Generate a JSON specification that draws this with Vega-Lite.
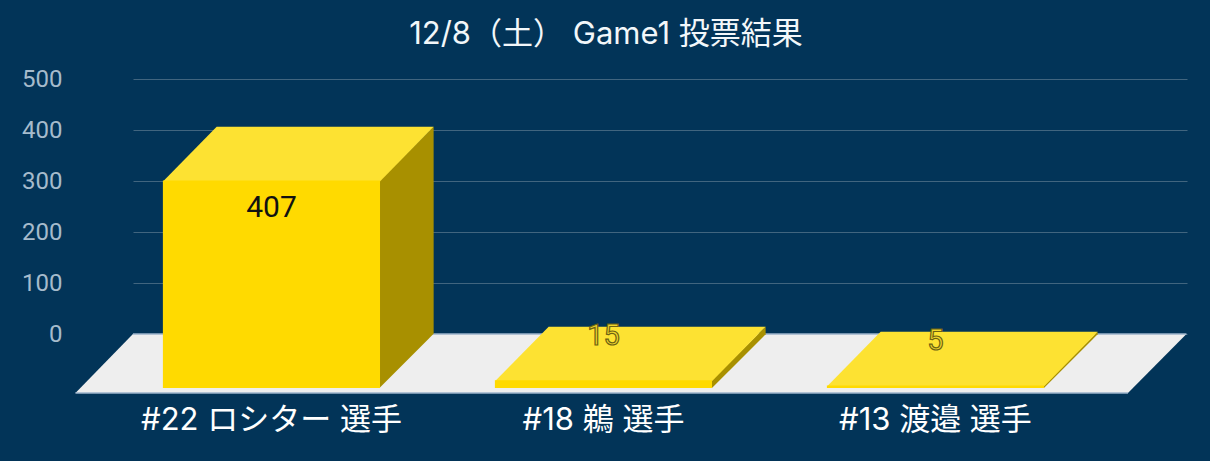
{
  "$schema": "https://vega.github.io/schema/vega-lite/v6.json",
  "description": "12/8 Game1 vote result, drawn as 3D boxes",
  "title": {
    "text": "12/8（土） Game1 投票結果",
    "color": "#F2F7FA",
    "font": "Inter, Noto Sans CJK JP",
    "fontSize": 31,
    "fontWeight": "normal",
    "dx": -54,
    "offset": 16
  },
  "background": "#023458",
  "autosize": {"type": "none"},
  "padding": {"left": 133, "top": 79, "right": 23, "bottom": 68},
  "width": 1054,
  "height": 314,
  "config": {"view": {"stroke": null}},
  "data": {
    "values": [
      {"player": "#22 ロシター 選手", "votes": 407},
      {"player": "#18 鵜 選手", "votes": 15},
      {"player": "#13 渡邉 選手", "votes": 5}
    ]
  },
  "encoding": {
    "x": {
      "field": "player",
      "type": "nominal",
      "title": null,
      "scale": {
        "type": "band",
        "domain": ["#22 ロシター 選手", "#18 鵜 選手", "#13 渡邉 選手"],
        "paddingInner": 0.346,
        "paddingOuter": 0.26035,
        "align": 0.1729
      },
      "axis": {
        "domain": false,
        "ticks": false,
        "grid": false,
        "labelAngle": 0,
        "labelColor": "#FFFFFF",
        "labelFont": "Inter, Noto Sans CJK JP",
        "labelFontSize": 31,
        "labelLimit": 0,
        "labelPadding": 12
      }
    }
  },
  "layer": [
    {
      "data": {"values": [{"floor": "floor"}]},
      "mark": {
        "type": "point",
        "filled": true,
        "opacity": 1,
        "size": 4,
        "color": "#EEEEEE",
        "shape": "M-528,59L524.5,59L583,0L-470.5,0Z"
      },
      "encoding": {
        "x": {"datum": "#18 鵜 選手"},
        "y": {
          "datum": 0,
          "type": "quantitative",
          "title": null,
          "scale": {"domain": [0, 500], "range": [255, 0]},
          "axis": {
            "values": [0, 100, 200, 300, 400, 500],
            "domain": false,
            "ticks": false,
            "grid": true,
            "gridColor": "#41657F",
            "gridWidth": 1,
            "labelColor": "#A6BBCC",
            "labelFont": "Roboto",
            "labelFontSize": 24,
            "labelPadding": 71
          }
        }
      }
    },
    {
      "data": {"values": [{"floor": "floor"}]},
      "mark": {
        "type": "point",
        "filled": false,
        "opacity": 1,
        "size": 4,
        "color": "#9DB4CC",
        "strokeWidth": 1.5,
        "shape": "M-528,59L524.5,59M583,0L-470.5,0"
      },
      "encoding": {
        "x": {"datum": "#18 鵜 選手"},
        "y": {
          "datum": 0,
          "type": "quantitative",
          "scale": {"domain": [0, 500], "range": [255, 0]},
          "axis": null
        }
      }
    },
    {
      "mark": {"type": "point", "filled": true, "opacity": 1, "size": 4, "color": "#A89000"},
      "encoding": {
        "y": {
          "field": "votes",
          "type": "quantitative",
          "scale": {"domain": [0, 500], "range": [309, 54]},
          "axis": null
        },
        "shape": {
          "field": "player",
          "type": "nominal",
          "legend": null,
          "scale": {
            "domain": ["#22 ロシター 選手", "#18 鵜 選手", "#13 渡邉 選手"],
            "range": [
              "M108.5,0L162.2,-53.7L162.2,153.3L108.5,207Z",
              "M108.5,0L162.2,-53.7L162.2,-46.1L108.5,7.6Z",
              "M108.5,0L162.2,-53.7L162.2,-51.2L108.5,2.5Z"
            ]
          }
        }
      }
    },
    {
      "mark": {
        "type": "point",
        "filled": true,
        "opacity": 1,
        "size": 4,
        "color": "#FDE232",
        "shape": "M-108.5,1L108.5,1L162.2,-53.7L-54.8,-53.7Z"
      },
      "encoding": {
        "y": {
          "field": "votes",
          "type": "quantitative",
          "scale": {"domain": [0, 500], "range": [309, 54]},
          "axis": null
        }
      }
    },
    {
      "mark": {"type": "bar", "color": "#FFDA00", "width": {"band": 1}},
      "encoding": {
        "y": {
          "field": "votes",
          "type": "quantitative",
          "scale": {"domain": [0, 500], "range": [309, 54]},
          "axis": null
        }
      }
    },
    {
      "transform": [{"filter": {"field": "votes", "gt": 100}}],
      "mark": {
        "type": "text",
        "color": "#111111",
        "font": "Roboto",
        "fontSize": 30,
        "dy": 82,
        "baseline": "middle"
      },
      "encoding": {
        "y": {
          "field": "votes",
          "type": "quantitative",
          "scale": {"domain": [0, 500], "range": [255, 0]},
          "axis": null
        },
        "text": {"field": "votes", "type": "quantitative"}
      }
    },
    {
      "transform": [{"filter": {"field": "votes", "lte": 100}}],
      "mark": {
        "type": "text",
        "fill": "#F0D62C",
        "stroke": "#6E6212",
        "strokeWidth": 1.2,
        "font": "Roboto",
        "fontSize": 29,
        "dy": 10,
        "baseline": "middle"
      },
      "encoding": {
        "y": {
          "field": "votes",
          "type": "quantitative",
          "scale": {"domain": [0, 500], "range": [255, 0]},
          "axis": null
        },
        "text": {"field": "votes", "type": "quantitative"}
      }
    }
  ],
  "resolve": {"scale": {"y": "independent"}}
}
